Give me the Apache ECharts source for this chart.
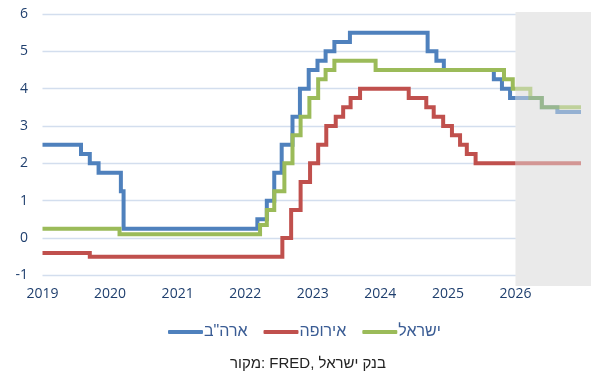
<!DOCTYPE html>
<html>
<head>
<meta charset="utf-8">
<script src="https://cdn.jsdelivr.net/npm/echarts@6/dist/echarts.min.js"></script>
<style>html,body{margin:0;padding:0;background:#fff}#c{width:616px;height:381px}</style>
</head>
<body>
<div id="c"></div>
<script>
// ---- data (decimal years, percent) ----
const seriesNames = ['ארה"ב', 'אירופה', 'ישראל'];
const usX = [2019.0, 2019.57, 2019.70, 2019.83, 2020.16, 2020.20, 2022.18, 2022.32, 2022.43, 2022.54, 2022.70, 2022.81, 2022.94, 2023.07, 2023.19, 2023.32, 2023.55, 2024.70, 2024.83, 2024.94, 2025.68, 2025.80, 2025.92, 2026.0];
const usY = [2.5, 2.25, 2.0, 1.75, 1.25, 0.25, 0.5, 1.0, 1.75, 2.5, 3.25, 4.0, 4.5, 4.75, 5.0, 5.25, 5.5, 5.0, 4.75, 4.5, 4.25, 4.0, 3.75, 3.75];
const euX = [2019.0, 2019.70, 2022.55, 2022.68, 2022.82, 2022.96, 2023.08, 2023.20, 2023.34, 2023.45, 2023.56, 2023.70, 2024.42, 2024.68, 2024.79, 2024.93, 2025.06, 2025.18, 2025.28, 2025.41, 2026.0];
const euY = [-0.4, -0.5, 0, 0.75, 1.5, 2.0, 2.5, 3.0, 3.25, 3.5, 3.75, 4.0, 3.75, 3.5, 3.25, 3.0, 2.75, 2.5, 2.25, 2.0, 2.0];
const ilX = [2019.0, 2020.14, 2022.22, 2022.32, 2022.43, 2022.58, 2022.70, 2022.82, 2022.95, 2023.08, 2023.19, 2023.32, 2023.93, 2025.83, 2025.96, 2026.0];
const ilY = [0.25, 0.1, 0.35, 0.75, 1.25, 2.0, 2.75, 3.25, 3.75, 4.25, 4.5, 4.75, 4.5, 4.25, 4.0, 4.0];
// forecast (shaded period)
const usFX = [2026.0, 2026.39, 2026.62, 2026.97];
const usFY = [3.75, 3.5, 3.375, 3.375];
const euFX = [2026.0, 2026.97];
const euFY = [2.0, 2.0];
const ilFX = [2026.0, 2026.22, 2026.39, 2026.97];
const ilFY = [4.0, 3.75, 3.5, 3.5];
const forecastStart = 2026;
const xMin = 2019, xMax = 2026.97, xMaxShade = 2027.118;
const yMin = -1, yMax = 6;
const sourceText = 'מקור: FRED, בנק ישראל';

const colors = ['#4F81BD', '#C0504D', '#9BBB59'];
const zip = (xs, ys) => xs.map((x, i) => [x, ys[i]]);

const chart = echarts.init(document.getElementById('c'), null, {renderer: 'canvas'});
const lineSeries = (name, data, color, opacity, z) => ({
  name, type: 'line', step: 'end', data, showSymbol: false, symbol: 'none',
  xAxisIndex: 0, yAxisIndex: 0, z,
  lineStyle: {color, width: 4, opacity, cap: 'butt', join: 'miter'},
  itemStyle: {color}, animation: false, silent: true
});

chart.setOption({
  animation: false,
  color: colors,
  grid: [
    {left: 42.5, right: 35, top: 14, bottom: 105.7},
    {left: 42.5, right: 25, top: 12, bottom: 95}
  ],
  xAxis: [
    {type: 'value', gridIndex: 0, min: xMin, max: xMax, interval: 1,
     axisLine: {show: false}, axisTick: {show: false}, splitLine: {show: false},
     axisLabel: {show: true, margin: 12, color: '#1F3F6E', fontFamily: 'Open Sans', fontSize: 14,
       showMaxLabel: false, formatter: v => Number.isInteger(v) ? String(v) : ''}},
    {type: 'value', gridIndex: 1, min: xMin, max: xMaxShade, show: false}
  ],
  yAxis: [
    {type: 'value', gridIndex: 0, min: yMin, max: yMax, interval: 1,
     axisLine: {show: false}, axisTick: {show: false},
     splitLine: {show: true, lineStyle: {color: '#D3DEEE', width: 1.3}},
     axisLabel: {margin: 14.5, color: '#1F3F6E', fontFamily: 'Open Sans', fontSize: 14}},
    {type: 'value', gridIndex: 1, min: 0, max: 1, show: false}
  ],
  legend: {
    data: seriesNames, left: 163, top: 319, itemWidth: 35, itemHeight: 4, itemGap: 16,
    icon: 'roundRect',
    textStyle: {color: '#3A5C94', fontFamily: 'Liberation Sans, Arial', fontSize: 16, padding: [0, 0, 0, -4]}
  },
  title: {
    text: sourceText, left: 'center', top: 351,
    textStyle: {color: '#222', fontFamily: 'Liberation Sans, Arial', fontSize: 15, fontWeight: 'normal'}
  },
  series: [
    {type: 'line', xAxisIndex: 1, yAxisIndex: 1, data: [[forecastStart, 0], [xMaxShade, 1]], z: -1, silent: true,
     showSymbol: false, symbol: 'none', lineStyle: {opacity: 0, width: 0},
     markArea: {silent: true, itemStyle: {color: '#EAEAEA'},
       data: [[{coord: [forecastStart, 0]}, {coord: [xMaxShade, 1]}]]}},
    lineSeries(seriesNames[0], zip(usX, usY), colors[0], 1, 3),
    lineSeries(seriesNames[1], zip(euX, euY), colors[1], 1, 3),
    lineSeries(seriesNames[2], zip(ilX, ilY), colors[2], 1, 3),
    lineSeries('us-f', zip(usFX, usFY), colors[0], 0.55, 2),
    lineSeries('eu-f', zip(euFX, euFY), colors[1], 0.55, 2),
    lineSeries('il-f', zip(ilFX, ilFY), colors[2], 0.55, 2)
  ]
});
</script>
</body>
</html>
